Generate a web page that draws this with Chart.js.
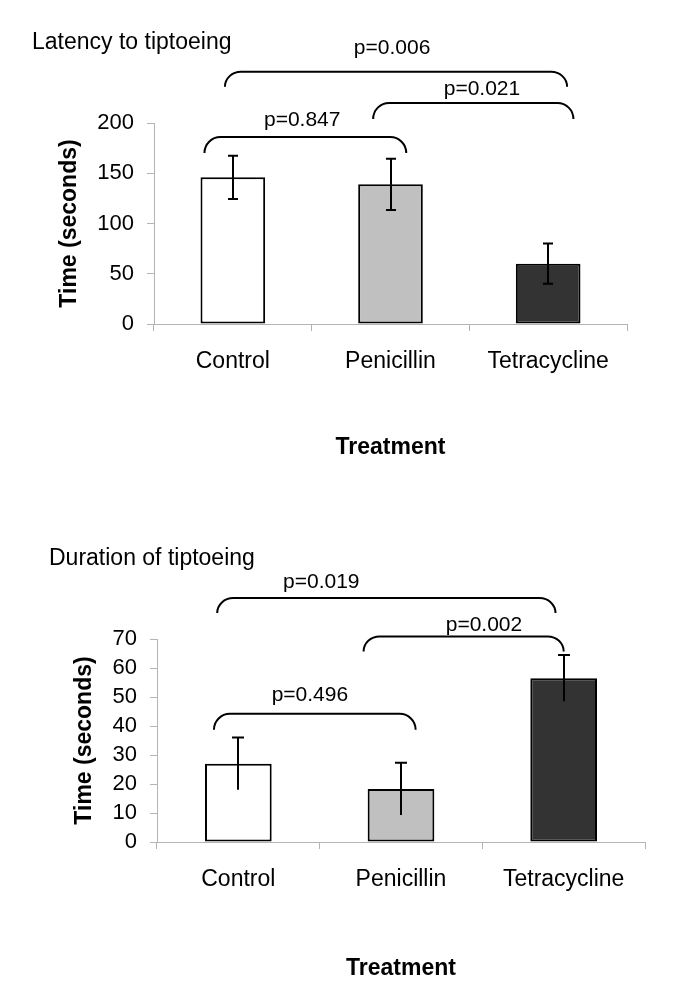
<!DOCTYPE html>
<html>
<head>
<meta charset="utf-8">
<script src="https://cdn.jsdelivr.net/npm/chart.js@4.4.0/dist/chart.umd.min.js"></script>
<style>
body { margin: 0; background: #fff; }
canvas { display: block; }
</style>
</head>
<body>
<canvas id="latency" width="685" height="500"></canvas>
<canvas id="duration" width="685" height="505"></canvas>
<script>
// data
var categories = ['Control', 'Penicillin', 'Tetracycline'];

var latencyMeans = [146, 139, 60];
var latencyErrors = [21.5, 25.5, 20];
var latencyTicks = [0, 50, 100, 150, 200];
var latencyP = ['p=0.847', 'p=0.021', 'p=0.006'];
var latencyPairs = [[0, 1], [1, 2], [0, 2]];
var latencyLevels = [186, 220, 251];

var durationMeans = [27, 18.3, 56.5];
var durationErrors = [9, 9, 8];
var durationTicks = [0, 10, 20, 30, 40, 50, 60, 70];
var durationP = ['p=0.496', 'p=0.002', 'p=0.019'];
var durationPairs = [[0, 1], [1, 2], [0, 2]];
var durationLevels = [44.2, 70.9, 84.1];

var FONT = "'Liberation Sans', Arial, sans-serif";
var AXIS = '#b4b4b4';
var barFill = ['#ffffff', '#c0c0c0', '#333333'];

// error bars, p-value brackets and the small title
function extras(o) {
    return {
        id: 'extras',
        afterDatasetsDraw: function (chart) {
            var ctx = chart.ctx;
            var x = chart.scales.x;
            var y = chart.scales.y;
            var cw = x.getPixelForValue(1) - x.getPixelForValue(0);
            ctx.save();
            ctx.strokeStyle = '#000';
            ctx.fillStyle = '#000';
            ctx.lineWidth = 2;

            // error bars
            o.means.forEach(function (m, i) {
                var cx = Math.round(x.getPixelForValue(i));
                var top = y.getPixelForValue(m + o.errors[i]);
                var bot = y.getPixelForValue(m - o.errors[i]);
                ctx.beginPath();
                ctx.moveTo(cx, top);
                ctx.lineTo(cx, bot);
                ctx.moveTo(cx - o.cap, top);
                ctx.lineTo(cx + o.cap, top);
                if (o.lowerCap) {
                    ctx.moveTo(cx - o.cap, bot);
                    ctx.lineTo(cx + o.cap, bot);
                }
                ctx.stroke();
            });

            // brackets
            ctx.font = '21px ' + FONT;
            ctx.textAlign = 'center';
            ctx.textBaseline = 'middle';
            o.pairs.forEach(function (p, i) {
                var x1 = x.getPixelForValue(p[0]) + o.shift[i][0] * cw;
                var x2 = x.getPixelForValue(p[1]) + o.shift[i][1] * cw;
                var yl = y.getPixelForValue(o.levels[i]);
                var ye = yl + o.drop[i];
                var rx = 16;
                ctx.beginPath();
                ctx.ellipse(x1 + rx, ye, rx, o.drop[i], 0, Math.PI, Math.PI * 1.5);
                ctx.lineTo(x2 - rx, yl);
                ctx.ellipse(x2 - rx, ye, rx, o.drop[i], 0, Math.PI * 1.5, Math.PI * 2);
                ctx.stroke();
                var tx = x.getPixelForValue(o.labelAt[i]);
                ctx.fillText(o.labels[i], tx, yl - o.lift[i]);
            });

            // chart title
            ctx.font = '23px ' + FONT;
            ctx.textAlign = 'left';
            ctx.textBaseline = 'alphabetic';
            ctx.fillText(o.title, o.titleX, o.titleY);
            ctx.restore();
        }
    };
}

function makeChart(id, means, ticks, max, o) {
    var canvas = document.getElementById(id);
    return new Chart(canvas.getContext('2d'), {
        type: 'bar',
        data: {
            labels: categories,
            datasets: [{
                data: means,
                backgroundColor: barFill,
                borderColor: '#000',
                borderWidth: 2,
                borderSkipped: false,
                categoryPercentage: 1,
                barPercentage: 0.41
            }]
        },
        options: {
            responsive: false,
            animation: false,
            events: [],
            layout: { padding: o.padding },
            plugins: {
                legend: { display: false },
                tooltip: { enabled: false }
            },
            scales: {
                x: {
                    afterFit: function (s) { s.height = o.xHeight; },
                    ticks: {
                        color: '#000',
                        font: { family: FONT, size: 23 },
                        padding: 17,
                        maxRotation: 0,
                        autoSkip: false
                    },
                    grid: { offset: true, drawOnChartArea: false, tickLength: 7, color: AXIS },
                    border: { color: AXIS },
                    title: {
                        display: true,
                        text: 'Treatment',
                        color: '#000',
                        font: { family: FONT, size: 23, weight: 'bold' },
                        padding: { top: 0, bottom: o.xTitlePad }
                    }
                },
                y: {
                    min: 0,
                    max: max,
                    afterFit: function (s) { s.width = o.yWidth; },
                    afterBuildTicks: function (s) {
                        s.ticks = ticks.map(function (v) { return { value: v }; });
                    },
                    ticks: {
                        color: '#000',
                        font: { family: FONT, size: 22 },
                        padding: 13,
                        autoSkip: false
                    },
                    grid: { drawOnChartArea: false, tickLength: 7, color: AXIS },
                    border: { color: AXIS },
                    title: {
                        display: true,
                        text: 'Time (seconds)',
                        color: '#000',
                        font: { family: FONT, size: 23, weight: 'bold' },
                        padding: { top: o.yTitlePad, bottom: 0 }
                    }
                }
            }
        },
        plugins: [extras(o)]
    });
}

makeChart('latency', latencyMeans, latencyTicks, 200, {
    means: latencyMeans,
    errors: latencyErrors,
    pairs: latencyPairs,
    levels: latencyLevels,
    labels: latencyP,
    cap: 5,
    lowerCap: true,
    shift: [[-0.18, 0.10], [-0.11, 0.16], [-0.05, 0.12]],
    drop: [16, 16, 15],
    labelAt: [0.44, 1.58, 1.01],
    lift: [17, 14, 24],
    title: 'Latency to tiptoeing',
    titleX: 32,
    titleY: 49,
    padding: { top: 123, right: 58, bottom: 0, left: 0 },
    xHeight: 176,
    xTitlePad: 39,
    yWidth: 154,
    yTitlePad: 56
});

makeChart('duration', durationMeans, durationTicks, 70, {
    means: durationMeans,
    errors: durationErrors,
    pairs: durationPairs,
    levels: durationLevels,
    labels: durationP,
    cap: 6,
    lowerCap: false,
    shift: [[-0.15, 0.09], [-0.23, 0.0], [-0.13, -0.05]],
    drop: [16, 15, 15],
    labelAt: [0.44, 1.51, 0.51],
    lift: [19, 11, 16],
    title: 'Duration of tiptoeing',
    titleX: 49,
    titleY: 65,
    padding: { top: 139, right: 40, bottom: 0, left: 0 },
    xHeight: 163,
    xTitlePad: 23,
    yWidth: 157,
    yTitlePad: 71
});
</script>
</body>
</html>
